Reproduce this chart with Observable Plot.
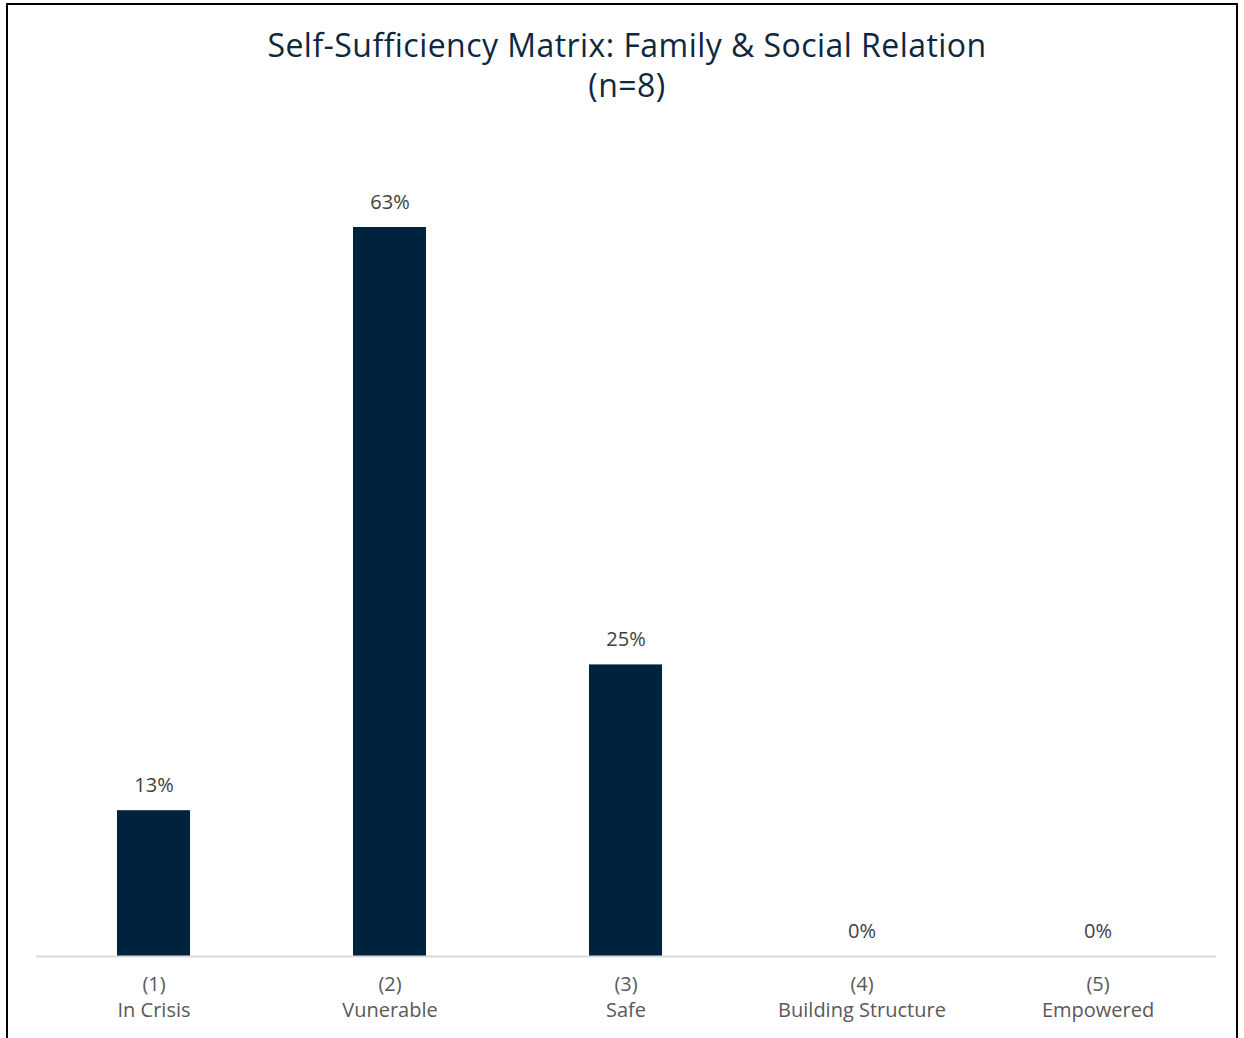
<!DOCTYPE html>
<html>
<head>
<meta charset="utf-8">
<script src="https://cdn.jsdelivr.net/npm/d3@7"></script>
<script src="https://cdn.jsdelivr.net/npm/@observablehq/plot@0.6"></script>
<style>
  html, body { margin: 0; padding: 0; background: #fff; }
  #wrap { position: relative; width: 1244px; height: 1038px; overflow: hidden; font-family: "Open Sans", sans-serif; }
  #frame { position: absolute; left: 6px; top: 3px; width: 1232px; height: 1100px; border: 2px solid #000; box-sizing: border-box; }
  #title { position: absolute; left: 5px; top: 25px; width: 1244px; text-align: center; color: #0e2841; font-size: 32px; letter-spacing: 0.45px; line-height: 40px; }
  #chart { position: absolute; left: 0; top: 110px; }
</style>
</head>
<body>
<div id="wrap">
  <div id="frame"></div>
  <div id="title">Self-Sufficiency Matrix: Family &amp; Social Relation<br>(n=8)</div>
  <div id="chart"></div>
</div>
<script>
const levels = ["(1)", "(2)", "(3)", "(4)", "(5)"];
const names = ["In Crisis", "Vunerable", "Safe", "Building Structure", "Empowered"];
const percents = [12.5, 62.5, 25, 0, 0];
const valueLabels = ["13%", "63%", "25%", "0%", "0%"];

const data = levels.map((l, i) => ({cat: l + "\n" + names[i], value: percents[i], label: valueLabels[i]}));

const chart = Plot.plot({
  width: 1244,
  height: 928,
  marginLeft: 36,
  marginRight: 28,
  marginTop: 117,
  marginBottom: 82,
  style: {fontFamily: "'Open Sans', sans-serif", background: "transparent"},
  x: {domain: data.map(d => d.cat), paddingInner: 0.69, paddingOuter: 0.345, label: null},
  y: {domain: [0, 62.5], axis: null},
  marks: [
    Plot.barY(data, {x: "cat", y: "value", fill: "#00233d"}),
    Plot.ruleY([0], {stroke: "#d9d9d9", strokeWidth: 2}),
    Plot.text(data, {x: "cat", y: "value", text: "label", dy: -25, fontSize: 20, fill: "#404040"}),
    Plot.axisX({tickSize: 0, tickPadding: 16, fontSize: 20, lineHeight: 1.3, fill: "#595959", label: null})
  ]
});
document.getElementById("chart").appendChild(chart);
</script>
</body>
</html>
